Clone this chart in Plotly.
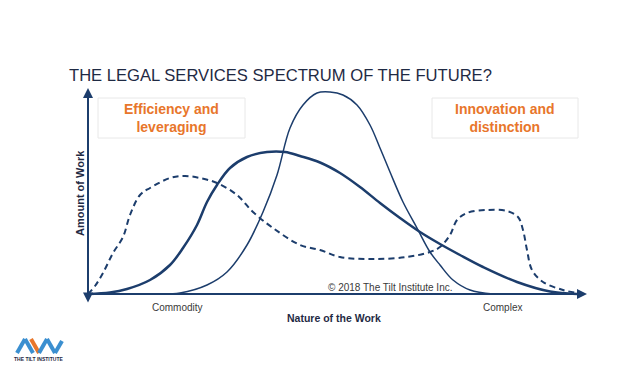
import plotly.graph_objects as go

# ---- data (x: nature of work, 0-100; y: amount of work, 0-~100) ----
dash_x = [0, 1.4, 3, 5, 7, 8.4, 10.4, 12.4, 16.4, 19.4, 22.4, 25.8, 29.8, 33, 37, 42.4, 46.4,
          50.4, 57, 63.8, 68.4, 70.4, 72.4, 73.8, 75.8, 79.8, 83.8, 86, 87, 87.8, 88.8, 91, 95, 99]
dash_y = [0, 4, 10.5, 20.5, 28.5, 39.5, 49.5, 53, 58, 59, 58, 55.5, 49.5, 41, 33, 24.5, 22,
          18.5, 17.5, 18.5, 21, 23.5, 29.5, 37, 40.5, 42, 41.5, 38.5, 32, 22, 12, 6, 2, 0]

wide_x = [0, 4.4, 7.8, 12.4, 16.4, 19, 21.8, 23.8, 25.8, 28.4, 31.8, 35.8, 39.4, 42.4, 46.4,
          50.4, 54.4, 58.4, 62.4, 66.4, 70.4, 74.4, 79, 85.8, 92.4, 97.8]
wide_y = [0, 0.75, 2.5, 7, 14.5, 23, 34.5, 46, 54.5, 63, 68.5, 71, 71, 69, 65.75,
          60.5, 53.5, 45.5, 38, 31, 25, 19.5, 13.5, 6, 1.25, 0]

bell_x = [14.4, 18.4, 23.8, 27.8, 31.8, 35, 37.8, 40.4, 43, 45.8, 48.4, 51, 53.8, 56.4, 58.4,
          60.4, 63, 65.8, 68.4, 70.4, 73, 76.4, 81]
bell_y = [0, 0.5, 4.5, 11, 24.5, 41, 59.5, 83, 94.5, 100.5, 101, 99.5, 94.5, 84.5, 73,
          61, 46, 33, 21, 14.5, 7, 2, 0]

title = "THE LEGAL SERVICES SPECTRUM OF THE FUTURE?"
left_label = ["Efficiency and", "leveraging"]
right_label = ["Innovation and", "distinction"]
x_title = "Nature of the Work"
y_title = "Amount of Work"
x_low, x_high = "Commodity", "Complex"
credit = "© 2018 The Tilt Institute Inc."

NAVY = "#1c3d6c"
ORANGE = "#e8762b"
TEXT = "#1f2a44"
GREY = "#3a3a3a"
FONT = "Liberation Sans, Arial, sans-serif"

fig = go.Figure()
fig.add_trace(go.Scatter(x=dash_x, y=dash_y, mode="lines",
                         line=dict(color=NAVY, width=2, dash="6px,4px", shape="spline", smoothing=1.0),
                         hoverinfo="skip"))
fig.add_trace(go.Scatter(x=wide_x, y=wide_y, mode="lines",
                         line=dict(color=NAVY, width=2.5, shape="spline", smoothing=1.0),
                         hoverinfo="skip"))
fig.add_trace(go.Scatter(x=bell_x, y=bell_y, mode="lines",
                         line=dict(color=NAVY, width=1.5, shape="spline", smoothing=1.0),
                         hoverinfo="skip"))


def px(xp):
    return xp / 620.0


def py(yp):
    return 1 - yp / 372.0


def bold_lines(lines):
    return "<br>".join("<b>" + s + "</b>" for s in lines)


shapes = [
    dict(type="rect", xref="paper", yref="paper", x0=px(98), x1=px(245), y0=py(138), y1=py(98),
         line=dict(color="#e8e8e8", width=1), fillcolor="white", layer="below"),
    dict(type="rect", xref="paper", yref="paper", x0=px(432), x1=px(578), y0=py(138), y1=py(98),
         line=dict(color="#e8e8e8", width=1), fillcolor="white", layer="below"),
]
# logo zigzag
logo = [((17, 353), (25, 339), "#3b8fd0"), ((25, 339), (33, 353), "#3b8fd0"),
        ((31, 339), (39, 353), "#e8762b"), ((39, 353), (47, 339), "#3b8fd0"),
        ((47, 339), (55, 353), "#3b8fd0"), ((55, 353), (62, 341), "#3b8fd0")]
for (a, b, c) in logo:
    shapes.append(dict(type="line", xref="paper", yref="paper", x0=px(a[0]), y0=py(a[1]),
                       x1=px(b[0]), y1=py(b[1]), line=dict(color=c, width=4)))

annotations = [
    # axes arrows
    dict(x=99.8, y=0, ax=-0.6, ay=0, xref="x", yref="y", axref="x", ayref="y", text="",
         showarrow=True, arrowhead=2, arrowsize=1, arrowwidth=2, arrowcolor=NAVY),
    dict(x=0, y=103, ax=0, ay=-5, xref="x", yref="y", axref="x", ayref="y", text="",
         showarrow=True, arrowhead=2, arrowsize=1, arrowwidth=2, arrowcolor=NAVY,
         arrowside="end+start"),
    dict(x=px(67), y=py(75), xref="paper", yref="paper", text=title, showarrow=False,
         xanchor="left", yanchor="middle", font=dict(family=FONT, size=16.6, color=TEXT)),
    dict(x=px(171.5), y=py(118), xref="paper", yref="paper", text=bold_lines(left_label),
         showarrow=False, xanchor="center", yanchor="middle",
         font=dict(family=FONT, size=14, color=ORANGE)),
    dict(x=px(505), y=py(118), xref="paper", yref="paper", text=bold_lines(right_label),
         showarrow=False, xanchor="center", yanchor="middle",
         font=dict(family=FONT, size=14, color=ORANGE)),
    dict(x=px(80), y=py(193), xref="paper", yref="paper", text="<b>" + y_title + "</b>",
         showarrow=False, textangle=-90, xanchor="center", yanchor="middle",
         font=dict(family=FONT, size=11, color=TEXT)),
    dict(x=px(334), y=py(318), xref="paper", yref="paper", text="<b>" + x_title + "</b>",
         showarrow=False, xanchor="center", yanchor="middle",
         font=dict(family=FONT, size=10.5, color=TEXT)),
    dict(x=px(177.5), y=py(307), xref="paper", yref="paper", text=x_low,
         showarrow=False, xanchor="center", yanchor="middle",
         font=dict(family=FONT, size=10, color=GREY)),
    dict(x=px(502.5), y=py(307), xref="paper", yref="paper", text=x_high,
         showarrow=False, xanchor="center", yanchor="middle",
         font=dict(family=FONT, size=10, color=GREY)),
    dict(x=px(390), y=py(287), xref="paper", yref="paper", text=credit,
         showarrow=False, xanchor="center", yanchor="middle",
         font=dict(family=FONT, size=10, color=GREY)),
    dict(x=px(39), y=py(359), xref="paper", yref="paper", text="<b>THE TILT INSTITUTE</b>",
         showarrow=False, xanchor="center", yanchor="middle",
         font=dict(family=FONT, size=5, color=TEXT)),
]

fig.update_layout(
    width=620, height=372,
    margin=dict(l=0, r=0, t=0, b=0),
    paper_bgcolor="white", plot_bgcolor="white",
    showlegend=False,
    xaxis=dict(range=[-88 / 5, 532 / 5], visible=False, fixedrange=True),
    yaxis=dict(range=[-78 / 2, 294 / 2], visible=False, fixedrange=True),
    shapes=shapes,
    annotations=annotations,
)

fig.write_html("out.html", config={"displayModeBar": False})
